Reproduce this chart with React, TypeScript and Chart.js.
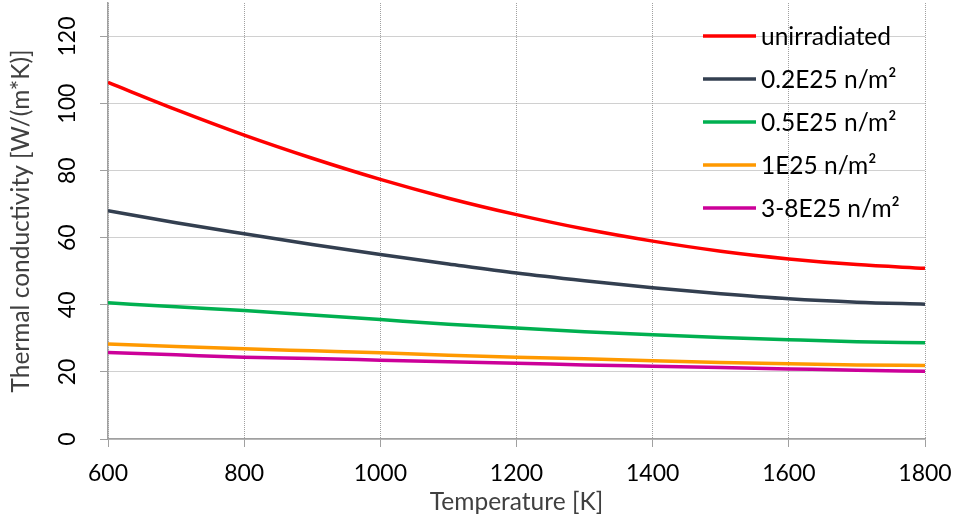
import React, { useEffect, useRef } from "react";
import { Chart, registerables } from "chart.js";

Chart.register(...registerables);

const temperatures = [600, 700, 800, 900, 1000, 1100, 1200, 1300, 1400, 1500, 1600, 1700, 1800];
const unirradiated = [106.3, 98.2, 90.6, 83.7, 77.4, 71.8, 66.9, 62.6, 59.0, 56.0, 53.7, 52.0, 50.9];
const dose02 = [68.1, 64.5, 61.2, 58.0, 55.0, 52.2, 49.5, 47.2, 45.1, 43.3, 41.8, 40.8, 40.2];
const dose05 = [40.6, 39.4, 38.3, 37.0, 35.6, 34.2, 33.1, 32.0, 31.1, 30.3, 29.6, 29.0, 28.7];
const dose1 = [28.3, 27.6, 26.9, 26.3, 25.7, 25.0, 24.4, 23.9, 23.3, 22.8, 22.4, 22.1, 21.9];
const dose38 = [25.8, 25.1, 24.4, 24.0, 23.5, 23.0, 22.6, 22.1, 21.7, 21.3, 20.9, 20.5, 20.2];

const seriesLabels = ["unirradiated", "0.2E25 n/m²", "0.5E25 n/m²", "1E25 n/m²", "3-8E25 n/m²"];
const seriesColors = ["#ff0000", "#333f50", "#00b050", "#ff9900", "#cc0099"];
const seriesValues = [unirradiated, dose02, dose05, dose1, dose38];

const xTicks = [600, 800, 1000, 1200, 1400, 1600, 1800];
const yTicks = [0, 20, 40, 60, 80, 100, 120];

const FONT = "Lato";

const legendPlugin = {
  id: "insideLegend",
  afterDatasetsDraw(chart: any) {
    const { ctx, chartArea } = chart;
    const x0 = chartArea.right - 222;
    const y0 = chartArea.top + 33;
    ctx.save();
    ctx.font = `24.5px ${FONT}`;
    ctx.textBaseline = "middle";
    ctx.textAlign = "left";
    chart.data.datasets.forEach((ds: any, i: number) => {
      const y = y0 + i * 43;
      ctx.strokeStyle = ds.borderColor;
      ctx.lineWidth = 3.5;
      ctx.beginPath();
      ctx.moveTo(x0, y);
      ctx.lineTo(x0 + 53, y);
      ctx.stroke();
      ctx.fillStyle = "#000";
      ctx.fillText(ds.label, x0 + 58, y + 1);
    });
    ctx.restore();
  },
};

export default function App() {
  const ref = useRef<HTMLCanvasElement | null>(null);
  useEffect(() => {
    if (!ref.current) return;
    const chart = new Chart(ref.current, {
      type: "line",
      data: {
        datasets: seriesValues.map((vals, i) => ({
          label: seriesLabels[i],
          data: temperatures.map((t, j) => ({ x: t, y: vals[j] })),
          borderColor: seriesColors[i],
          backgroundColor: seriesColors[i],
          borderWidth: 3.5,
          pointRadius: 0,
          cubicInterpolationMode: "monotone" as const,
          fill: false,
        })),
      },
      options: {
        animation: false,
        responsive: false,
        maintainAspectRatio: false,
        layout: { padding: { top: 3, right: 31, left: 0, bottom: 0 } },
        plugins: { legend: { display: false }, tooltip: { enabled: false } },
        scales: {
          x: {
            type: "linear",
            min: 600,
            max: 1800,
            afterBuildTicks: (axis: any) => {
              axis.ticks = xTicks.map((v) => ({ value: v }));
            },
            afterFit: (scale: any) => {
              scale.height = 79;
              scale.paddingLeft = 0;
              scale.paddingRight = 0;
            },
            ticks: {
              color: "#000",
              font: { family: FONT, size: 23 },
              padding: 13,
              maxRotation: 0,
              callback: (v: any) => String(v),
            },
            grid: {
              color: "#a0a0a0",
              lineWidth: 1,
              tickLength: 8,
              tickColor: "#a0a0a0",
            },
            border: { display: true, color: "#a0a0a0", width: 1.5, dash: [1, 1] },
            title: {
              display: true,
              text: "Temperature [K]",
              color: "#404040",
              font: { family: FONT, size: 24.5 },
              padding: { top: 0, bottom: 1 },
            },
          },
          y: {
            type: "linear",
            min: 0,
            max: 130,
            afterBuildTicks: (axis: any) => {
              axis.ticks = yTicks.map((v) => ({ value: v }));
            },
            afterFit: (scale: any) => {
              scale.width = 108;
              scale.paddingTop = 0;
              scale.paddingBottom = 0;
            },
            ticks: {
              color: "#000",
              font: { family: FONT, size: 23 },
              padding: 12,
              minRotation: 90,
              maxRotation: 90,
              crossAlign: "center",
              callback: (v: any) => String(v),
            },
            grid: {
              color: "#a0a0a0",
              lineWidth: 1,
              tickLength: 8,
              tickColor: "#a0a0a0",
            },
            border: { display: true, color: "#a0a0a0", width: 1.5, dash: [1, 1] },
            title: {
              display: true,
              text: "Thermal conductivity [W/(m*K)]",
              color: "#404040",
              font: { family: FONT, size: 24.5 },
              padding: { top: 6, bottom: 0 },
            },
          },
        },
      },
      plugins: [legendPlugin],
    });
    return () => chart.destroy();
  }, []);
  return (
    <div style={{ position: "fixed", left: 0, top: 0, width: 956, height: 518, background: "#fff" }}>
      <canvas ref={ref} width={956} height={518} style={{ width: 956, height: 518 }} />
    </div>
  );
}
